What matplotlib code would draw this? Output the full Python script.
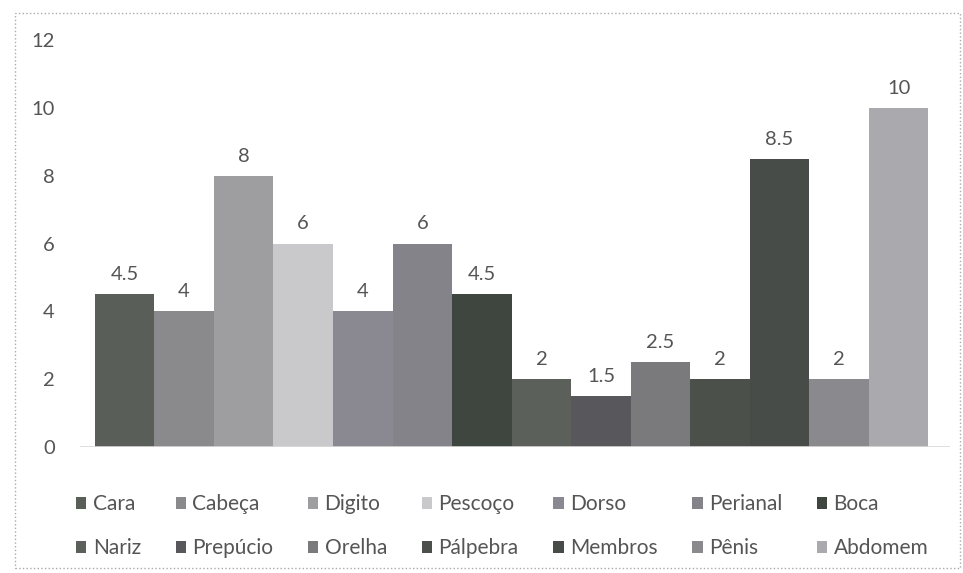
import numpy as np
import matplotlib.pyplot as plt
from matplotlib.patches import Rectangle

# Dados (localizacao das lesoes)
locais = ['Cara', 'Cabeça', 'Digito', 'Pescoço', 'Dorso', 'Perianal', 'Boca',
          'Nariz', 'Prepúcio', 'Orelha', 'Pálpebra', 'Membros', 'Pênis', 'Abdomem']
valores = [4.5, 4, 8, 6, 4, 6, 4.5, 2, 1.5, 2.5, 2, 8.5, 2, 10]
rotulos = ['4.5', '4', '8', '6', '4', '6', '4.5', '2', '1.5', '2.5', '2', '8.5', '2', '10']

cores = ['#5a5e58', '#8a8a8c', '#9e9ea0', '#c9c9cb', '#8a8890', '#84838a', '#3f453f',
         '#5c605a', '#58585c', '#7a7a7c', '#4c504a', '#484c48', '#8a8a8e', '#aaaaae']

plt.rcParams['font.family'] = ['Lato', 'DejaVu Sans']
cor_texto = '#555555'

fig = plt.figure(figsize=(9.63, 5.73), dpi=100)
ax = fig.add_axes([0.083, 0.22, 0.904, 0.71])

x = np.arange(len(valores))
barras = []
for i in range(len(valores)):
    b = ax.bar(x[i], valores[i], width=1.0, color=cores[i], label=locais[i])
    barras.append(b)
    ax.annotate(rotulos[i], (x[i], valores[i]), xytext=(0, 8), textcoords='offset points',
                ha='center', va='bottom', fontsize=14.5, color=cor_texto)

ax.set_xlim(-0.75, 13.87)
ax.set_ylim(0, 12)
ax.set_yticks([0, 2, 4, 6, 8, 10, 12])
ax.tick_params(axis='y', length=0, labelsize=14.5, labelcolor=cor_texto, pad=18)
ax.set_xticks([])
for s in ax.spines.values():
    s.set_visible(False)
ax.axhline(0, color='#d9d9d9', lw=1.2)

# legenda em 2 linhas (preenchimento por linha)
ordem = []
for c in range(7):
    ordem += [c, c + 7]
handles = [barras[i] for i in ordem]
labels = [locais[i] for i in ordem]
fig.legend(handles, labels, ncol=7, loc='upper left',
           bbox_to_anchor=(0.079, 0.137, 0.885, 0.0), mode='expand',
           frameon=False, fontsize=15, labelcolor=cor_texto, handlelength=0.5,
           handleheight=0.5, handletextpad=0.3, columnspacing=1.0, labelspacing=1.15,
           borderaxespad=0, borderpad=0)

# moldura pontilhada do grafico
fig.patches.append(Rectangle((0.016, 0.008), 0.981, 0.97, transform=fig.transFigure,
                             fill=False, ls=':', lw=1, ec='#aaaaaa'))

fig.savefig('out.png', dpi=100)
